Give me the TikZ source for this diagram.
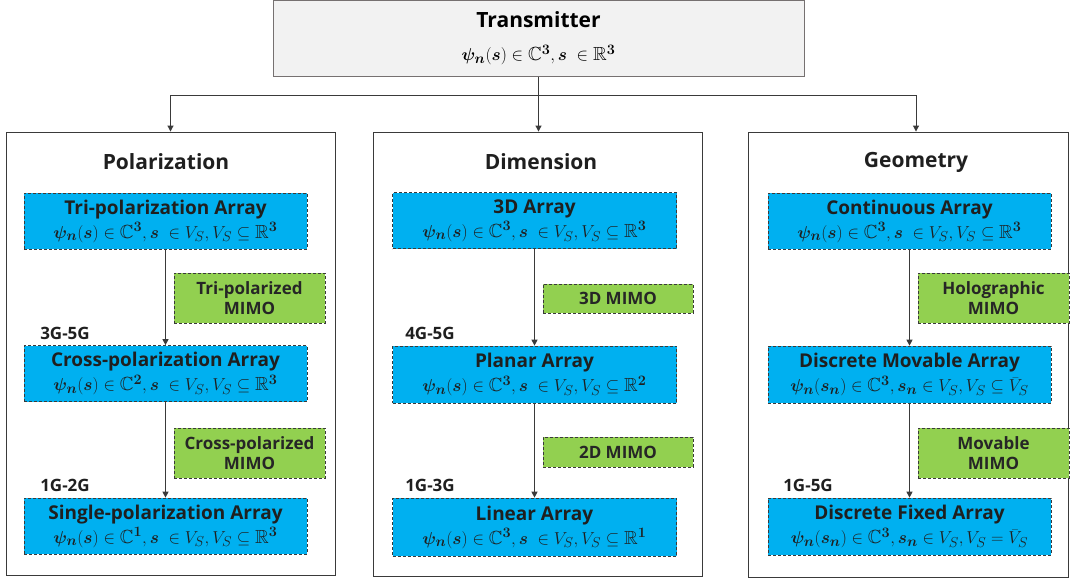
\documentclass[tikz,border=0pt]{standalone}
\usepackage{amsmath,amssymb,bm}
\usepackage[no-math]{fontspec}
\setmainfont{Open Sans}
\usetikzlibrary{arrows.meta}
\definecolor{bluefill}{HTML}{00B0F0}
\definecolor{greenfill}{HTML}{92D050}
\definecolor{linegray}{HTML}{3A3A3A}
\definecolor{txgray}{HTML}{F2F2F2}
\definecolor{txborder}{HTML}{767171}
\newcommand{\pn}{\bm{\psi}_{\bm{n}}}
\newcommand{\bs}{\bm{s}}
\newcommand{\CC}[1]{\mathbb{C}^{\mathbf{#1}}}
\newcommand{\RR}[1]{\mathbb{R}^{\mathbf{#1}}}
\begin{document}
\begin{tikzpicture}[x=1pt,y=-1pt,
  txbox/.style={draw=txborder,fill=txgray,line width=1pt,minimum width=531pt,minimum height=75pt,inner sep=0pt,align=center,font=\fontsize{19}{33}\selectfont},
  colbox/.style={draw=linegray,line width=0.9pt,inner sep=0pt},
  coltitle/.style={font=\fontsize{21}{26}\selectfont\bfseries,text=black!88,inner sep=0pt},
  bluebox/.style={draw=linegray,dashed,dash pattern=on 3pt off 2pt,line width=0.7pt,fill=bluefill,minimum width=283pt,minimum height=56pt,inner sep=0pt,align=center,font=\fontsize{19}{24}\selectfont,text=black!88},
  greenbox/.style={draw=linegray,dashed,dash pattern=on 3pt off 2pt,line width=0.7pt,fill=greenfill,minimum width=151pt,inner sep=0pt,align=center,font=\fontsize{17}{20}\selectfont\bfseries,text=black!85},
  genlabel/.style={font=\fontsize{17}{20}\selectfont\bfseries,text=black!88,inner sep=0pt},
  conn/.style={draw=linegray,line width=1pt,-{Triangle[length=6pt,width=6pt]}},
  line/.style={draw=linegray,line width=1pt}
]
\useasboundingbox (0,0) rectangle (1070,578);

% transmitter
\node[txbox] (tx) at (538.5,38.5) {{\fontsize{21}{26}\selectfont\bfseries Transmitter}\\$\pn(\bs)\in\CC{3},\bs\;\in\RR{3}$};

% columns
\node[colbox,minimum width=329pt,minimum height=443pt] (colL) at (170.5,353.5) {};
\node[colbox,minimum width=329pt,minimum height=444pt] (colM) at (537.5,354) {};
\node[colbox,minimum width=320pt,minimum height=445pt] (colR) at (908,354.5) {};

\coordinate (split) at (538.5,95);
\draw[conn] (tx.south) -- (tx.south |- colM.north);
\draw[conn] (tx.south) -- (split) -| (colL.north);
\draw[conn] (split) -| ([xshift=8pt]colR.north);

\node[coltitle] (tL) at (166,162) {Polarization};
\node[coltitle] (tM) at (541,162) {Dimension};
\node[coltitle] (tR) at (916,162) {Geometry};

% left column
\node[bluebox] (L1) at (165.5,221) {\textbf{Tri-polarization Array}\\$\pn(\bs)\in\CC{3},\bs\;\in V_S,V_S\subseteq\RR{3}$};
\node[bluebox] (L2) at (165.5,373.5) {\textbf{Cross-polarization Array}\\$\pn(\bs)\in\CC{2},\bs\;\in V_S,V_S\subseteq\RR{3}$};
\node[bluebox] (L3) at (165.5,526) {\textbf{Single-polarization Array}\\$\pn(\bs)\in\CC{1},\bs\;\in V_S,V_S\subseteq\RR{3}$};
\draw[conn] (L1.south) -- (L2.north);
\draw[conn] (L2.south) -- (L3.north);
\node[greenbox,minimum height=50pt] (gL1) at (249.5,298) {Tri-polarized\\MIMO};
\node[greenbox,minimum height=50pt] (gL2) at (249.5,453) {Cross-polarized\\MIMO};
\node[genlabel] (gen1) at (65,333) {3G-5G};
\node[genlabel] (gen2) at (65,485) {1G-2G};

% middle column
\node[bluebox,minimum width=284pt] (M1) at (534.5,220.5) {\textbf{3D Array}\\$\pn(\bs)\in\CC{3},\bs\;\in V_S,V_S\subseteq\RR{3}$};
\node[bluebox,minimum width=284pt,minimum height=57pt] (M2) at (534.5,374.5) {\textbf{Planar Array}\\$\pn(\bs)\in\CC{3},\bs\;\in V_S,V_S\subseteq\RR{2}$};
\node[bluebox,minimum width=284pt,minimum height=58pt] (M3) at (534.5,527) {\textbf{Linear Array}\\$\pn(\bs)\in\CC{3},\bs\;\in V_S,V_S\subseteq\RR{1}$};
\draw[conn] (M1.south) -- (M2.north);
\draw[conn] (M2.south) -- (M3.north);
\node[greenbox,minimum width=150pt,minimum height=29pt] (gM1) at (618,298.5) {3D MIMO};
\node[greenbox,minimum width=150pt,minimum height=30pt] (gM2) at (618,452) {2D MIMO};
\node[genlabel] (gen3) at (430,333) {4G-5G};
\node[genlabel] (gen4) at (430,485) {1G-3G};

% right column
\node[bluebox] (R1) at (909.5,221) {\textbf{Continuous Array}\\$\pn(\bs)\in\CC{3},\bs\;\in V_S,V_S\subseteq\RR{3}$};
\node[bluebox,minimum height=57pt] (R2) at (909.5,374.5) {\textbf{Discrete Movable Array}\\$\pn(\bs_{\bm n})\in\CC{3},\bs_{\bm n}\in V_S,V_S\subseteq\bar{V}_S$};
\node[bluebox,minimum height=57pt] (R3) at (909.5,526.5) {\textbf{Discrete Fixed Array}\\$\pn(\bs_{\bm n})\in\CC{3},\bs_{\bm n}\in V_S,V_S=\bar{V}_S$};
\draw[conn] (R1.south) -- (R2.north);
\draw[conn] (R2.south) -- (R3.north);
\node[greenbox,minimum height=50pt] (gR1) at (993.5,298) {Holographic\\MIMO};
\node[greenbox,minimum height=50pt] (gR2) at (993.5,453) {Movable\\MIMO};
\node[genlabel] (gen5) at (808,485) {1G-5G};
\end{tikzpicture}
\end{document}
